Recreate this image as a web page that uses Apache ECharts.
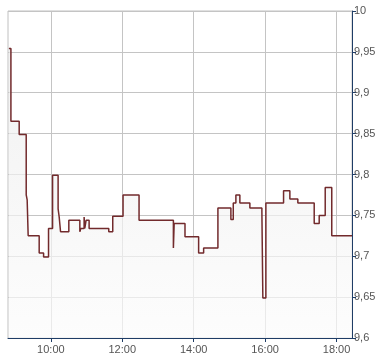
<!DOCTYPE html>
<html>
<head>
<meta charset="utf-8">
<script src="https://cdn.jsdelivr.net/npm/echarts@6/dist/echarts.min.js"></script>
<style>html,body{margin:0;padding:0;background:#fff;}#c{width:390px;height:364px;}</style>
</head>
<body>
<div id="c"></div>
<script>
// time of day in minutes since midnight
var times = [529.5, 532.9, 546.8, 558.6, 560.2, 561.9, 580.4, 587.8, 596.1, 602.9,
  612.2, 614.0, 616.3, 630.2, 648.7, 650.3, 655.9, 657.0, 659.2, 664.3,
  697.3, 704.0, 721.3, 748.2, 805.9, 807.2, 825.4, 848.3, 856.7, 880.7,
  902.5, 906.5, 910.9, 917.6, 934.4, 954.6, 956.2, 961.3, 991.0, 1001.6,
  1015.0, 1042.5, 1050.9, 1061.0, 1072.0, 1106.0];
var prices = [9.954, 9.865, 9.849, 9.775, 9.769, 9.725, 9.704, 9.699, 9.734, 9.799,
  9.758, 9.748, 9.730, 9.744, 9.730, 9.734, 9.748, 9.734, 9.744, 9.734,
  9.730, 9.749, 9.775, 9.744, 9.710, 9.740, 9.724, 9.704, 9.710, 9.759,
  9.745, 9.765, 9.775, 9.765, 9.759, 9.754, 9.649, 9.765, 9.780, 9.770,
  9.765, 9.740, 9.750, 9.784, 9.725, 9.725];
var xTickValues = [600, 720, 840, 960, 1080];
var xMin = 528, xMax = 1106;
var yMin = 9.6, yMax = 10, yStep = 0.05;

var data = times.map(function (t, i) { return [t, prices[i]]; });
function hhmm(m) {
  var h = Math.floor(m / 60), mm = Math.round(m - h * 60);
  return (h < 10 ? '0' : '') + h + ':' + (mm < 10 ? '0' : '') + mm;
}
var chart = echarts.init(document.getElementById('c'), null, {renderer: 'canvas'});
chart.setOption({
  animation: false,
  grid: {left: 8, right: 38, top: 11, bottom: 26, show: true, borderColor: '#c0c0c0', borderWidth: 1},
  xAxis: {
    type: 'value', min: xMin, max: xMax,
    axisLine: {show: true, lineStyle: {color: '#1f3d66', width: 1}},
    axisTick: {show: true, length: 4, lineStyle: {color: '#1f3d66'}, customValues: xTickValues},
    axisLabel: {customValues: xTickValues, formatter: function (v) { return hhmm(v); },
      color: '#555', fontFamily: 'Liberation Sans', fontSize: 11, margin: 6},
    splitLine: {show: true, lineStyle: {color: '#c4c4c4', width: 1}}
  },
  yAxis: {
    type: 'value', position: 'right', min: yMin, max: yMax, interval: yStep,
    axisLine: {show: true, lineStyle: {color: '#1f3d66', width: 1}},
    axisTick: {show: true, length: 4, inside: false, lineStyle: {color: '#1f3d66'}},
    axisLabel: {formatter: function (v) { return String(parseFloat(v.toFixed(2))).replace('.', ','); },
      color: '#555', fontFamily: 'Liberation Sans', fontSize: 11, margin: 2},
    splitLine: {show: true, lineStyle: {color: '#c4c4c4', width: 1}}
  },
  series: [{
    type: 'line', step: 'end', data: data, symbol: 'none',
    lineStyle: {color: '#722a2c', width: 1.5},
    areaStyle: {origin: 'start', color: new echarts.graphic.LinearGradient(0, 0, 0, 1, [
      {offset: 0, color: '#ebebeb'}, {offset: 1, color: '#fbfbfb'}])}
  }]
});
</script>
</body>
</html>
